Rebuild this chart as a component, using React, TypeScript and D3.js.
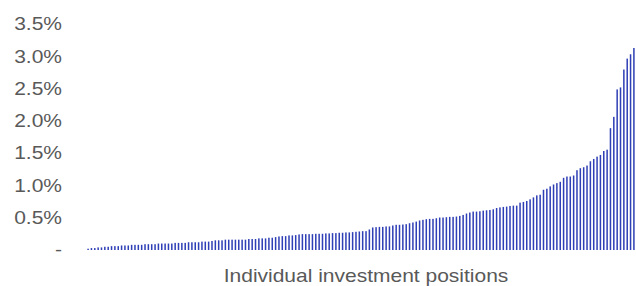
import { useMemo } from "react";
import * as d3 from "d3";

// position weights in %, sorted ascending
const SMALL = [
  0.02, 0.03, 0.03, 0.04, 0.04, 0.05, 0.05, 0.06, 0.06, 0.06, 0.07, 0.07, 0.07, 0.08, 0.08,
  0.08, 0.08, 0.09, 0.09, 0.09, 0.09, 0.1, 0.1, 0.1, 0.1, 0.1, 0.11, 0.11, 0.11, 0.11,
  0.12, 0.12, 0.12, 0.12, 0.13, 0.13, 0.13, 0.14, 0.15, 0.15, 0.15, 0.16, 0.16, 0.16,
  0.16, 0.16, 0.16, 0.16, 0.17, 0.17, 0.17, 0.18, 0.18, 0.18, 0.19, 0.19, 0.2, 0.21,
];
const MID = [
  0.215, 0.215, 0.226, 0.226, 0.231, 0.241, 0.246, 0.246, 0.246, 0.246, 0.251, 0.251,
  0.251, 0.257, 0.257, 0.262, 0.262, 0.267, 0.267, 0.272, 0.272, 0.277, 0.282, 0.287,
  0.292, 0.292, 0.318, 0.349,
  0.354, 0.358, 0.358, 0.365, 0.365, 0.38, 0.39, 0.39, 0.395, 0.4, 0.415, 0.426, 0.44,
  0.457, 0.467, 0.477, 0.482, 0.482, 0.492, 0.503, 0.503, 0.508, 0.513, 0.513, 0.518,
  0.528, 0.543, 0.565, 0.58,
];
const LARGE = [
  0.595, 0.595, 0.6, 0.61, 0.615, 0.62, 0.63, 0.65, 0.66, 0.667, 0.672, 0.682, 0.687,
  0.687, 0.733, 0.744, 0.759, 0.785, 0.815, 0.846, 0.856, 0.933, 0.949, 0.985,
  1.015, 1.036, 1.056, 1.118, 1.138, 1.138, 1.154, 1.236, 1.267, 1.282, 1.308, 1.374,
  1.41, 1.446, 1.472, 1.533, 1.554, 1.887, 2.062, 2.487, 2.518, 2.795, 2.964, 3.031, 3.128,
];
const WEIGHTS = [...SMALL, ...MID, ...LARGE];

const Y_TICKS = [0, 0.5, 1, 1.5, 2, 2.5, 3, 3.5];
const Y_LABELS = ["-", "0.5%", "1.0%", "1.5%", "2.0%", "2.5%", "3.0%", "3.5%"];
const X_TITLE = "Individual investment positions";

const W = 636;
const H = 286;
const FONT = "'Liberation Sans', Arial, sans-serif";
const GREY = "#595959";
const SX = 1.2; // picture is stretched sideways

export default function App() {
  const x = useMemo(
    () =>
      d3
        .scaleBand<number>()
        .domain(d3.range(WEIGHTS.length))
        .range([85.5, 636.5])
        .padding(0.55),
    []
  );
  const y = useMemo(() => d3.scaleLinear().domain([0, 3.5]).range([250, 24]), []);

  return (
    <svg
      width={W}
      height={H}
      style={{ position: "absolute", left: 0, top: 0, display: "block" }}
    >
      <rect width={W} height={H} fill="#fff" />
      <g>
        {WEIGHTS.map((v, i) => (
          <rect
            key={i}
            x={x(i)}
            y={y(v)}
            width={x.bandwidth()}
            height={y(0) - y(v)}
            fill="#2f3fb5"
          />
        ))}
      </g>
      <g fontFamily={FONT} fontSize={17.5} fill={GREY}>
        {Y_TICKS.map((t, i) => (
          <text
            key={t}
            transform={`translate(62,${y(t)}) scale(${SX},1)`}
            textAnchor="end"
            dy="0.36em"
          >
            {Y_LABELS[i]}
          </text>
        ))}
        <text transform={`translate(366,281.5) scale(${SX},1)`} textAnchor="middle">
          {X_TITLE}
        </text>
      </g>
    </svg>
  );
}
